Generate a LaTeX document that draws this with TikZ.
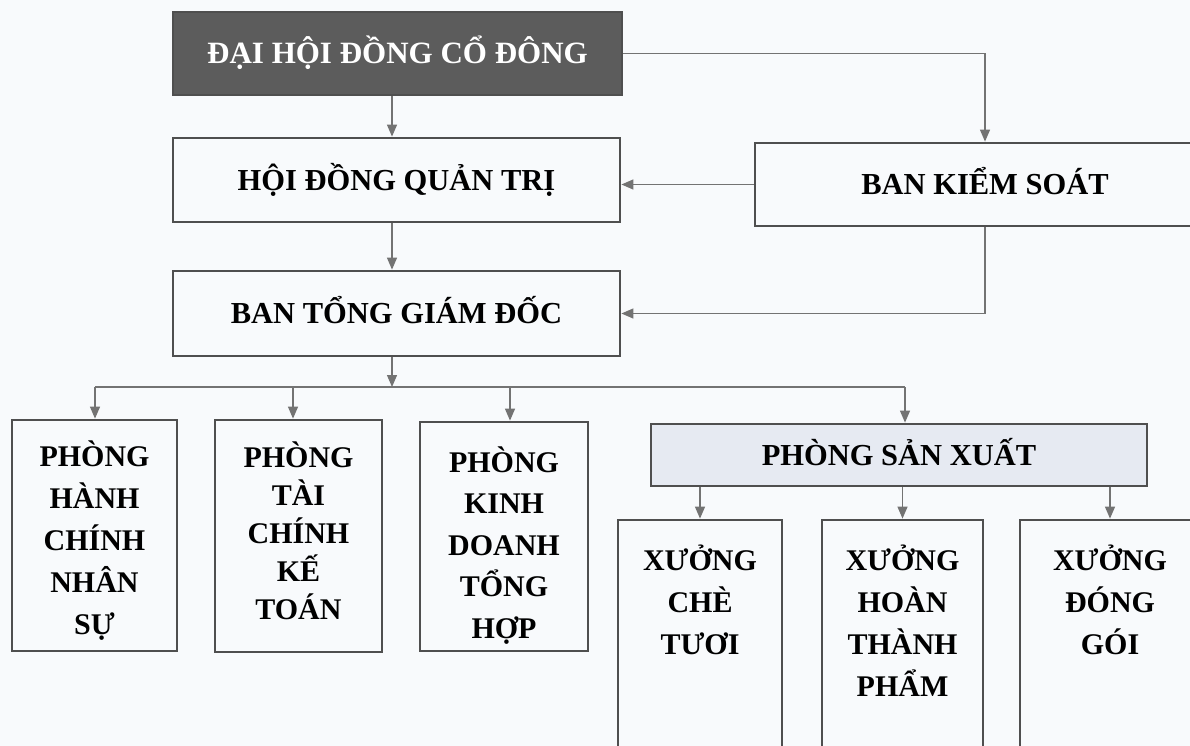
\documentclass[tikz,border=0pt]{standalone}
\usepackage{fontspec}
\setmainfont{Liberation Serif}
\usetikzlibrary{arrows.meta}
\definecolor{bg}{HTML}{F8FAFC}
\definecolor{edgegray}{HTML}{4F4F4F}
\definecolor{conngray}{HTML}{737373}
\definecolor{darkfill}{HTML}{5C5C5C}
\definecolor{psxfill}{HTML}{E6EAF2}
% #1 width, #2 height, #3 first baseline from top, #4 baselineskip, #5 lines
\newcommand{\cellbox}[5]{\parbox[c][#2][t]{#1}{\centering\fontsize{30}{#4}\selectfont\bfseries\rule{0pt}{#3}#5\par}}
\tikzset{
  orgbox/.style={draw=edgegray, line width=2.8pt, fill=bg, inner sep=0pt},
  oneline/.style={orgbox, font=\fontsize{30.5}{36}\selectfont\bfseries, text height=20pt, text depth=0pt},
  conn/.style={draw=conngray, line width=1.3pt, -{Triangle[width=10pt,length=12pt,fill=conngray]}},
  plain/.style={draw=conngray, line width=1.3pt}
}
\begin{document}
\begin{tikzpicture}[x=1pt,y=-1pt]
\useasboundingbox (0,0) rectangle (1190,746);
\clip (0,0) rectangle (1190,746);
\fill[bg] (0,0) rectangle (1190,746);

% top level
\node[oneline, fill=darkfill, draw=edgegray, text=white, font=\fontsize{31}{36}\selectfont\bfseries, minimum width=449pt, minimum height=83pt] (dh) at (397.5,53.5) {ĐẠI HỘI ĐỒNG CỔ ĐÔNG};
\node[oneline, minimum width=447pt, minimum height=84pt] (hd) at (396.5,180) {HỘI ĐỒNG QUẢN TRỊ};
\node[oneline, minimum width=460pt, minimum height=83pt] (bks) at (985,184.5) {BAN KIỂM SOÁT};
\node[oneline, minimum width=447pt, minimum height=85pt] (tg) at (396.5,313.5) {BAN TỔNG GIÁM ĐỐC};

% departments
\node[orgbox, minimum width=165pt, minimum height=231pt] (b1) at (94.5,535.5)
  {\cellbox{165pt}{231pt}{46pt}{42pt}{PHÒNG\\HÀNH\\CHÍNH\\NHÂN\\SỰ}};
\node[orgbox, minimum width=167pt, minimum height=232pt] (b2) at (298.5,536)
  {\cellbox{167pt}{232pt}{47pt}{38pt}{PHÒNG\\TÀI\\CHÍNH\\KẾ\\TOÁN}};
\node[orgbox, minimum width=168pt, minimum height=229pt] (b3) at (504,536.5)
  {\cellbox{168pt}{229pt}{50pt}{41.5pt}{PHÒNG\\KINH\\DOANH\\TỔNG\\HỢP}};
\node[oneline, fill=psxfill, minimum width=496pt, minimum height=62pt] (psx) at (899,455) {PHÒNG SẢN XUẤT};

% workshops
\node[orgbox, minimum width=164pt, minimum height=260pt] (x1) at (700,650)
  {\cellbox{164pt}{260pt}{50pt}{42pt}{XƯỞNG\\CHÈ\\TƯƠI}};
\node[orgbox, minimum width=161pt, minimum height=260pt] (x2) at (902.5,650)
  {\cellbox{161pt}{260pt}{50pt}{42pt}{XƯỞNG\\HOÀN\\THÀNH\\PHẨM}};
\node[orgbox, minimum width=180pt, minimum height=260pt] (x3) at (1110,650)
  {\cellbox{172pt}{260pt}{50pt}{42pt}{XƯỞNG\\ĐÓNG\\GÓI}};

% helper coordinates
\coordinate (spine) at (392,0);
\coordinate (d1) at (95,387);
\coordinate (d2) at (293,387);
\coordinate (d3) at (510,387);
\coordinate (d4) at (905,387);

% connectors
\draw[conn] (dh.south -| spine) -- (hd.north -| spine);
\draw[conn] (dh.east) -| (bks.north);
\draw[conn] (bks.west) -- (bks.west -| hd.east);
\draw[conn] (hd.south -| spine) -- (tg.north -| spine);
\draw[conn] (bks.south) |- (tg.east);
\draw[conn] (tg.south -| spine) -- (spine |- d1);
\draw[plain] (d1) -- (d4);
\draw[conn] (d1) -- (b1.north -| d1);
\draw[conn] (d2) -- (b2.north -| d2);
\draw[conn] (d3) -- (b3.north -| d3);
\draw[conn] (d4) -- (psx.north -| d4);
\draw[conn] (psx.south -| x1.north) -- (x1.north);
\draw[conn] (psx.south -| x2.north) -- (x2.north);
\draw[conn] (psx.south -| x3.north) -- (x3.north);
\end{tikzpicture}
\end{document}
